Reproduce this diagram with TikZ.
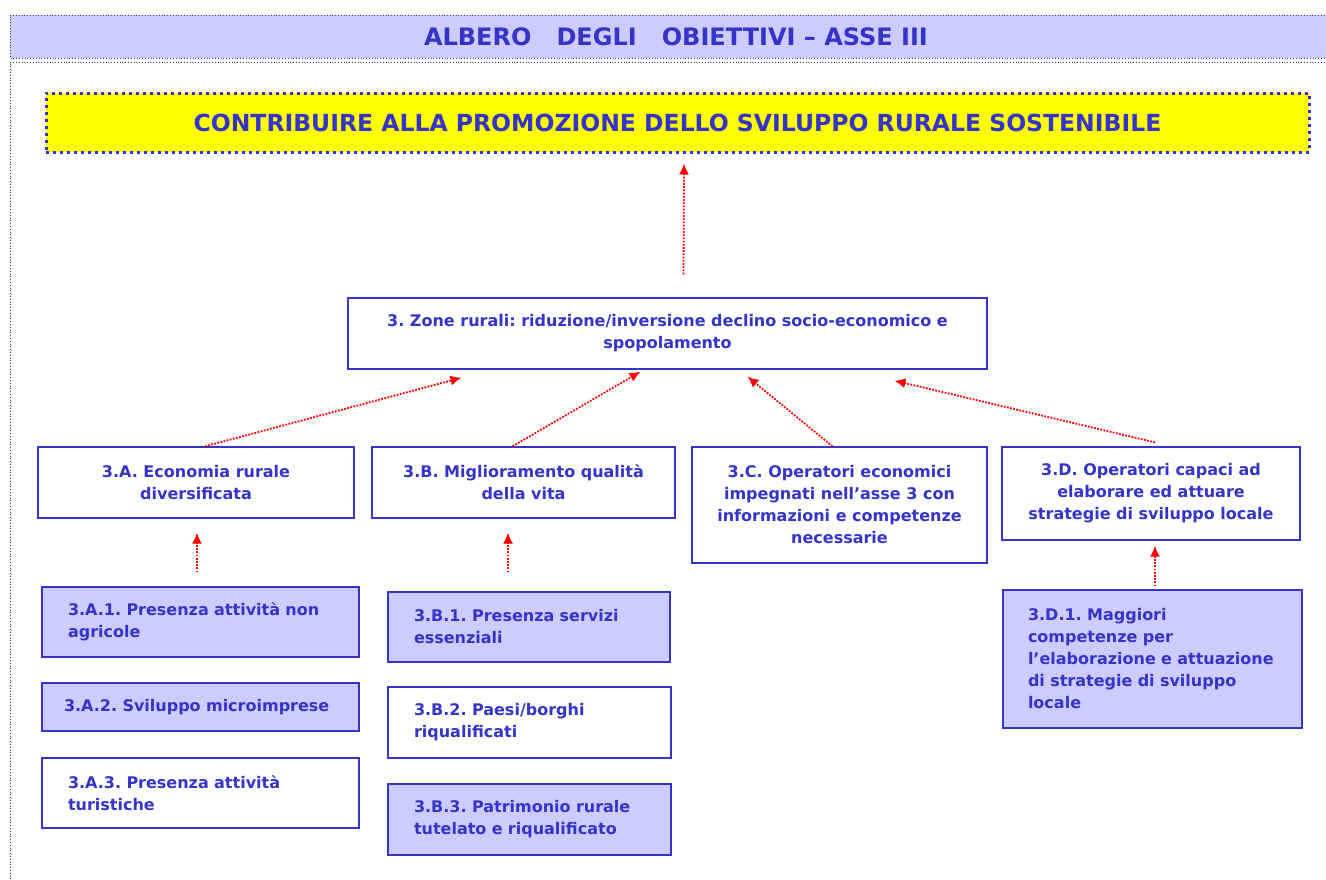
\documentclass[tikz,border=0pt]{standalone}
\usepackage{fontspec}
\setmainfont{DejaVu Sans}
\usetikzlibrary{calc,arrows.meta}
\definecolor{obblue}{HTML}{3434C8}
\definecolor{oblilac}{HTML}{CCCCFF}
\definecolor{obyellow}{HTML}{FFFF00}
\tikzstyle{frame}=[draw=obblue, dotted, line width=0.8pt]
\tikzstyle{goal}=[draw=obblue, line width=1.3pt, text=obblue, inner sep=0pt, align=center,
  font=\bfseries\fontsize{16}{22}\selectfont]
\tikzstyle{filled}=[fill=oblilac]
\tikzstyle{leftgoal}=[goal, align=left, inner xsep=26pt]
\tikzstyle{link}=[draw=red, line width=1.8pt, dash pattern=on 1.8pt off 1.4pt,
  -{Latex[length=11pt,width=10pt]}]

\begin{document}
\frenchspacing\hyphenpenalty=10000
\begin{tikzpicture}[x=1pt, y=-1pt]
\useasboundingbox (0,0) rectangle (1326,879);
% title band and frame
\fill[oblilac] (10,15) rectangle (1330,58);
\draw[frame] (1330,15) -- (10,15) -- (10,58) -- (1330,58);
\draw[frame] (1330,62) -- (10,62) -- (10,879);
\node[text=obblue, font=\bfseries\fontsize{24}{26}\selectfont] (Title) at (676,37)
  {ALBERO\ \ \ DEGLI\ \ \ OBIETTIVI -- ASSE III};
% general objective
\node[draw=obblue, fill=obyellow, line width=3pt, dash pattern=on 3pt off 4pt, text=obblue,
  minimum width=1263pt, minimum height=59pt, font=\bfseries\fontsize{23.5}{26}\selectfont]
  (Top) at (677.5,122.5) {CONTRIBUIRE ALLA PROMOZIONE DELLO SVILUPPO RURALE SOSTENIBILE};
% axis objective
\node[goal, minimum width=639pt, minimum height=71pt] (Z) at (667.5,333.5)
  {3. Zone rurali: riduzione/inversione declino socio-economico e\\ spopolamento};
% specific objectives
\node[goal, minimum width=316pt, minimum height=71pt] (A) at (196,482.5)
  {3.A. Economia rurale\\ diversificata};
\node[goal, minimum width=303pt, minimum height=71pt] (B) at (523.5,482.5)
  {3.B. Miglioramento qualità\\ della vita};
\node[goal, minimum width=295pt, minimum height=116pt] (C) at (839.5,505)
  {3.C. Operatori economici\\ impegnati nell’asse 3 con\\ informazioni e competenze\\ necessarie};
\node[goal, minimum width=298pt, minimum height=93pt] (D) at (1151,493.5)
  {3.D. Operatori capaci ad\\ elaborare ed attuare\\ strategie di sviluppo locale};
% operational objectives
\node[leftgoal, filled, text width=265pt, minimum height=70pt] (A1) at (200.5,622)
  {3.A.1. Presenza attività non\\ agricole};
\node[leftgoal, filled, inner xsep=22pt, text width=273pt, minimum height=48pt] (A2) at (200.5,707)
  {3.A.2. Sviluppo microimprese};
\node[leftgoal, text width=265pt, minimum height=70pt] (A3) at (200.5,793)
  {3.A.3. Presenza attività\\ turistiche};
\node[leftgoal, filled, text width=230pt, minimum height=70pt] (B1) at (529,627)
  {3.B.1. Presenza servizi\\ essenziali};
\node[leftgoal, text width=231pt, minimum height=71pt] (B2) at (529.5,722.5)
  {3.B.2. Paesi/borghi\\ riqualificati};
\node[leftgoal, filled, text width=231pt, minimum height=71pt] (B3) at (529.5,819.5)
  {3.B.3. Patrimonio rurale\\ tutelato e riqualificato};
\node[leftgoal, filled, inner xsep=25pt, text width=249pt, minimum height=138pt] (D1) at (1152.5,659)
  {3.D.1. Maggiori\\ competenze per\\ l’elaborazione e attuazione\\ di strategie di sviluppo\\ locale};
% arrows
\draw[link] ($(Z.north)+(16,-23)$) -- ($(Top.south)+(6.5,10)$);
\draw[link] ($(A.north)+(9,0)$) -- ($(Z.south)+(-206,8)$);
\draw[link] ($(B.north)+(-11,0)$) -- ($(Z.south)+(-27,2)$);
\draw[link] ($(C.north)+(-7,0)$) -- ($(Z.south)+(80,7)$);
\draw[link] ($(D.north)+(4,-4)$) -- ($(Z.south)+(227,11)$);
\draw[link] ($(A1.north)+(-3.5,-14)$) -- ($(A.south)+(1,14)$);
\draw[link] ($(B1.north)+(-21,-19)$) -- ($(B.south)+(-15.5,14)$);
\draw[link] ($(D1.north)+(2.5,-3)$) -- ($(D.south)+(4,5)$);
\end{tikzpicture}
\end{document}
